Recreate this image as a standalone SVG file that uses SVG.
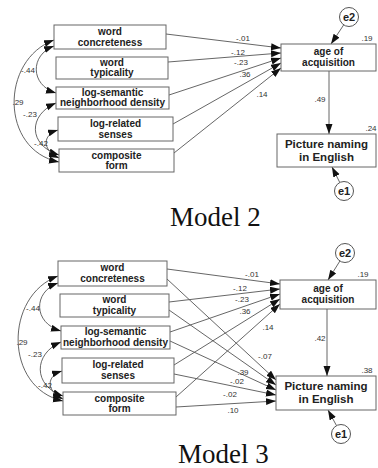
<svg xmlns="http://www.w3.org/2000/svg" width="378" height="468" viewBox="0 0 378 468">
<style>
.box{fill:#fff;stroke:#666;stroke-width:1}
.bt{font-family:"Liberation Sans",Arial,sans-serif;font-weight:bold;font-size:10px;fill:#222;text-anchor:middle}
.bt2{font-family:"Liberation Sans",Arial,sans-serif;font-weight:bold;font-size:11.5px;fill:#222;text-anchor:middle}
.lb{font-family:"Liberation Sans",Arial,sans-serif;font-size:8px;fill:#333;text-anchor:middle}
.ln{fill:none;stroke:#555;stroke-width:0.9}
.arr{marker-end:url(#ah)}
.cov{fill:none;stroke:#555;stroke-width:0.9;marker-start:url(#ah);marker-end:url(#ah)}
.ec{fill:#fff;stroke:#555;stroke-width:1}
.et{font-family:"Liberation Sans",Arial,sans-serif;font-weight:bold;font-size:11px;fill:#222;text-anchor:middle}
.title{font-family:"Liberation Serif","Times New Roman",serif;font-size:27px;fill:#111}
</style>
<defs>
<marker id="ah" markerUnits="userSpaceOnUse" markerWidth="11" markerHeight="8" refX="10" refY="3.5" orient="auto-start-reverse">
<path d="M0,0 L10,3.5 L0,7 z" fill="#111"/>
</marker>
</defs>

<!-- MODEL 2 -->
<g id="m2-connectors">
<path class="ln arr" d="M166,34 L281,48"/>
<path class="ln arr" d="M168,62 L281,53"/>
<path class="ln arr" d="M169,95 L281,58"/>
<path class="ln arr" d="M173,124 L281,63"/>
<path class="ln arr" d="M174,153 L281,68"/>
<path class="ln arr" d="M329,71 L329,134"/>
<path class="ln arr" d="M343.7,24.9 L331,44"/>
<path class="ln arr" d="M339.8,182.5 L332,167"/>
<path class="cov" d="M54,40 C0,60 0,150 59,162"/>
<path class="cov" d="M54,46 C30,55 30,85 56,93"/>
<path class="cov" d="M56,103 C28,115 28,145 59,155"/>
<path class="cov" d="M58,130 C42,135 42,150 59,158"/>
<text class="lb" x="28" y="73">-.44</text>
<text class="lb" x="18" y="105">.29</text>
<text class="lb" x="30" y="117">-.23</text>
<text class="lb" x="41" y="146">-.42</text>
<text class="lb" x="243" y="41">-.01</text>
<text class="lb" x="238" y="55">-.12</text>
<text class="lb" x="241" y="65">-.23</text>
<text class="lb" x="245" y="77">.36</text>
<text class="lb" x="262" y="97">.14</text>
<text class="lb" x="320" y="102">.49</text>
<text class="lb" x="367" y="41">.19</text>
<text class="lb" x="371" y="131">.24</text>
</g>
<g id="m2-concreteness"><rect class="box" x="54" y="25" width="112" height="24"/><text class="bt" x="110" y="35">word</text><text class="bt" x="110" y="46">concreteness</text></g>
<g id="m2-typicality"><rect class="box" x="56" y="57" width="112" height="22"/><text class="bt" x="112" y="65.5">word</text><text class="bt" x="112" y="76">typicality</text></g>
<g id="m2-density"><rect class="box" x="56" y="87" width="113" height="22"/><text class="bt" x="112.5" y="95.5">log-semantic</text><text class="bt" x="112.5" y="106">neighborhood density</text></g>
<g id="m2-senses"><rect class="box" x="58" y="117" width="115" height="24"/><text class="bt" x="115.5" y="126.5">log-related</text><text class="bt" x="115.5" y="137.5">senses</text></g>
<g id="m2-composite"><rect class="box" x="59" y="149" width="115" height="23"/><text class="bt" x="116.5" y="158.5">composite</text><text class="bt" x="116.5" y="169">form</text></g>
<g id="m2-aoa"><rect class="box" x="281" y="44" width="95" height="27"/><text class="bt" x="328.5" y="55">age of</text><text class="bt" x="328.5" y="66">acquisition</text></g>
<g id="m2-picture"><rect class="box" x="277" y="134" width="99" height="33"/><text class="bt2" x="326.5" y="148">Picture naming</text><text class="bt2" x="326.5" y="160.5">in English</text></g>
<g id="m2-e2"><circle class="ec" cx="349" cy="17" r="9.5"/><text class="et" x="349" y="21">e2</text></g>
<g id="m2-e1"><circle class="ec" cx="344" cy="191" r="9.5"/><text class="et" x="344" y="195">e1</text></g>
<text class="title" x="170" y="226">Model 2</text>

<!-- MODEL 3 -->
<g id="m3-connectors">
<path class="ln arr" d="M167,269 L280,284"/>
<path class="ln arr" d="M169,302 L280,289"/>
<path class="ln arr" d="M170,332 L280,294"/>
<path class="ln arr" d="M174,365 L280,299"/>
<path class="ln arr" d="M176,397 L280,304"/>
<path class="ln arr" d="M167,279 L276,380"/>
<path class="ln arr" d="M169,310 L276,385"/>
<path class="ln arr" d="M170,341 L276,390"/>
<path class="ln arr" d="M174,374 L276,395"/>
<path class="ln arr" d="M176,407 L276,401"/>
<path class="ln arr" d="M327,309 L327,376"/>
<path class="ln arr" d="M339.9,261 L328,280"/>
<path class="ln arr" d="M336.5,425.6 L328,410"/>
<path class="cov" d="M58,276 C4,296 4,388 63,401"/>
<path class="cov" d="M58,283 C33,292 33,323 61,331"/>
<path class="cov" d="M61,342 C33,354 33,386 63,396"/>
<path class="cov" d="M62,371 C46,376 46,391 63,399"/>
<text class="lb" x="33" y="311">-.44</text>
<text class="lb" x="22" y="345">.29</text>
<text class="lb" x="35" y="357">-.23</text>
<text class="lb" x="45" y="388">-.42</text>
<text class="lb" x="252" y="277">-.01</text>
<text class="lb" x="240" y="291">-.12</text>
<text class="lb" x="242" y="302">-.23</text>
<text class="lb" x="245" y="314">.36</text>
<text class="lb" x="268" y="330">.14</text>
<text class="lb" x="265" y="359">-.07</text>
<text class="lb" x="243" y="375">.39</text>
<text class="lb" x="237" y="384">-.02</text>
<text class="lb" x="230" y="397">-.02</text>
<text class="lb" x="233" y="413">.10</text>
<text class="lb" x="320" y="341">.42</text>
<text class="lb" x="363" y="277">.19</text>
<text class="lb" x="367" y="373">.38</text>
</g>
<g id="m3-concreteness"><rect class="box" x="58" y="261" width="109" height="25"/><text class="bt" x="112.5" y="271">word</text><text class="bt" x="112.5" y="282">concreteness</text></g>
<g id="m3-typicality"><rect class="box" x="60" y="294" width="109" height="23"/><text class="bt" x="114.5" y="303">word</text><text class="bt" x="114.5" y="313.5">typicality</text></g>
<g id="m3-density"><rect class="box" x="61" y="326" width="109" height="23"/><text class="bt" x="115.5" y="335">log-semantic</text><text class="bt" x="115.5" y="345.5">neighborhood density</text></g>
<g id="m3-senses"><rect class="box" x="62" y="358" width="112" height="25"/><text class="bt" x="118" y="368">log-related</text><text class="bt" x="118" y="379">senses</text></g>
<g id="m3-composite"><rect class="box" x="63" y="392" width="113" height="23"/><text class="bt" x="119.5" y="401.5">composite</text><text class="bt" x="119.5" y="412">form</text></g>
<g id="m3-aoa"><rect class="box" x="280" y="280" width="96" height="29"/><text class="bt" x="328" y="292">age of</text><text class="bt" x="328" y="303">acquisition</text></g>
<g id="m3-picture"><rect class="box" x="276" y="376" width="100" height="34"/><text class="bt2" x="326" y="390">Picture naming</text><text class="bt2" x="326" y="402.5">in English</text></g>
<g id="m3-e2"><circle class="ec" cx="345" cy="253" r="9.5"/><text class="et" x="345" y="257">e2</text></g>
<g id="m3-e1"><circle class="ec" cx="341" cy="434" r="9.5"/><text class="et" x="341" y="438">e1</text></g>
<text class="title" x="178" y="463">Model 3</text>
</svg>
